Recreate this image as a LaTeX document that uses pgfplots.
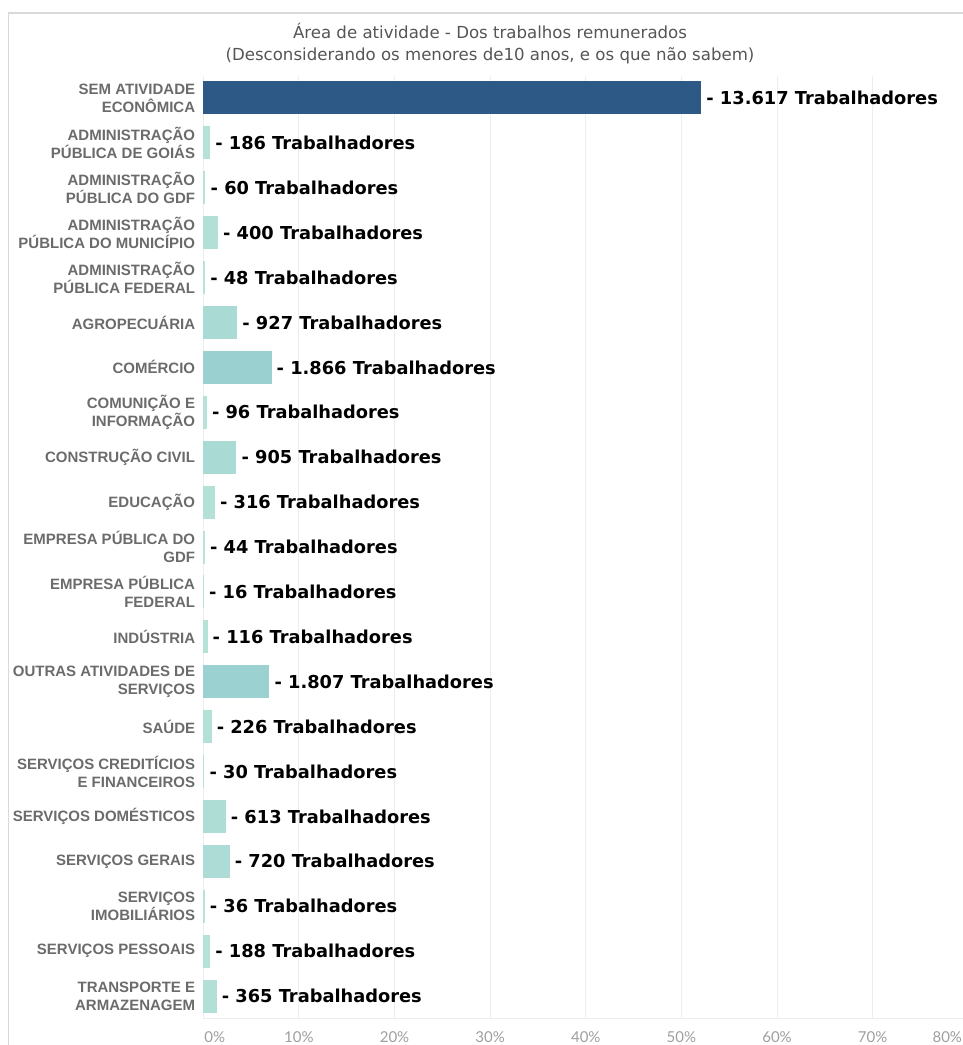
\documentclass[border=0pt]{standalone}
\usepackage{pgfplots}
\pgfplotsset{compat=1.18}
\usepackage{fontspec}
\setmainfont{Liberation Sans}
\newfontfamily\catfont{Liberation Sans}
\newfontfamily\valfont{DejaVu Sans}
\newfontfamily\titlefont{DejaVu Sans}
\newfontfamily\tickfont{Lato}
\definecolor{cdark}{HTML}{2C5985}
\definecolor{cmid}{HTML}{4A9FB8}
\definecolor{clight}{HTML}{B8E3D8}
\definecolor{catgray}{HTML}{6B6B6B}
\definecolor{titlegray}{HTML}{555555}
\definecolor{tickgray}{HTML}{9E9E9E}
\definecolor{gridgray}{HTML}{EDEDED}
\definecolor{framegray}{HTML}{D9D9D9}
\begin{document}
\begin{tikzpicture}[x=1pt,y=1pt]
\useasboundingbox (0,0) rectangle (963,1045);
\draw[framegray, line width=1.8pt] (8.5,0) -- (8.5,1032.3) -- (963,1032.3);
\node[font=\titlefont\fontsize{16.6}{20}\selectfont, text=titlegray, anchor=base, inner sep=0pt] at (490,1006) {Área de atividade - Dos trabalhos remunerados};
\node[font=\titlefont\fontsize{16.6}{20}\selectfont, text=titlegray, anchor=base, inner sep=0pt] at (490,984) {(Desconsiderando os menores de10 anos, e os que não sabem)};
\begin{axis}[
  at={(203.3pt,26.5pt)}, anchor=south west,
  width=765pt, height=943pt, scale only axis,
  xmin=0, xmax=80, ymin=-0.5, ymax=20.5, y dir=reverse,
  xbar, bar width=33pt, bar shift=0pt,
  axis line style={draw=none},
  xmajorgrids, grid style={gridgray, line width=0.9pt},
  major tick length=0pt,
  xtick={0,10,...,80},
  xticklabels={\hspace*{23pt}0\%,10\%,20\%,30\%,40\%,50\%,60\%,70\%,80\%\hspace*{42pt}},
  xticklabel style={font=\tickfont\fontsize{15}{18}\selectfont, text=tickgray, inner sep=0pt, yshift=-12.5pt},
  ytick={0,...,20},
  yticklabels={{SEM ATIVIDADE\\ECONÔMICA},{ADMINISTRAÇÃO\\PÚBLICA DE GOIÁS},{ADMINISTRAÇÃO\\PÚBLICA DO GDF},{ADMINISTRAÇÃO\\PÚBLICA DO MUNICÍPIO},{ADMINISTRAÇÃO\\PÚBLICA FEDERAL},{AGROPECUÁRIA},{COMÉRCIO},{COMUNIÇÃO E\\INFORMAÇÃO},{CONSTRUÇÃO CIVIL},{EDUCAÇÃO},{EMPRESA PÚBLICA DO\\GDF},{EMPRESA PÚBLICA\\FEDERAL},{INDÚSTRIA},{OUTRAS ATIVIDADES DE\\SERVIÇOS},{SAÚDE},{SERVIÇOS CREDITÍCIOS\\E FINANCEIROS},{SERVIÇOS DOMÉSTICOS},{SERVIÇOS GERAIS},{SERVIÇOS\\IMOBILIÁRIOS},{SERVIÇOS PESSOAIS},{TRANSPORTE E\\ARMAZENAGEM}},
  yticklabel style={align=right, anchor=east, inner sep=0pt, xshift=-8pt, font=\catfont\bfseries\fontsize{15}{18}\selectfont, text=catgray},
  point meta=explicit symbolic,
  nodes near coords={- \pgfplotspointmeta\ Trabalhadores},
  every node near coord/.append style={anchor=west, inner sep=0pt, xshift=5pt, font=\valfont\bfseries\fontsize{17.8}{20}\selectfont, text=black},
  clip=false,
]
\addplot[draw=none, fill=cdark] coordinates {(52.07,0) [13.617]};
\addplot[draw=none, fill=cmid!2.8!clight] coordinates {(0.711,1) [186]};
\addplot[draw=none, fill=cmid!0.9!clight] coordinates {(0.229,2) [60]};
\addplot[draw=none, fill=cmid!5.9!clight] coordinates {(1.530,3) [400]};
\addplot[draw=none, fill=cmid!0.7!clight] coordinates {(0.184,4) [48]};
\addplot[draw=none, fill=cmid!13.6!clight] coordinates {(3.545,5) [927]};
\addplot[draw=none, fill=cmid!27.4!clight] coordinates {(7.136,6) [1.866]};
\addplot[draw=none, fill=cmid!1.4!clight] coordinates {(0.367,7) [96]};
\addplot[draw=none, fill=cmid!13.3!clight] coordinates {(3.461,8) [905]};
\addplot[draw=none, fill=cmid!4.6!clight] coordinates {(1.208,9) [316]};
\addplot[draw=none, fill=cmid!0.6!clight] coordinates {(0.168,10) [44]};
\addplot[draw=none, fill=cmid!0.2!clight] coordinates {(0.061,11) [16]};
\addplot[draw=none, fill=cmid!1.7!clight] coordinates {(0.444,12) [116]};
\addplot[draw=none, fill=cmid!26.5!clight] coordinates {(6.910,13) [1.807]};
\addplot[draw=none, fill=cmid!3.3!clight] coordinates {(0.864,14) [226]};
\addplot[draw=none, fill=cmid!0.4!clight] coordinates {(0.115,15) [30]};
\addplot[draw=none, fill=cmid!9.0!clight] coordinates {(2.344,16) [613]};
\addplot[draw=none, fill=cmid!10.6!clight] coordinates {(2.753,17) [720]};
\addplot[draw=none, fill=cmid!0.5!clight] coordinates {(0.138,18) [36]};
\addplot[draw=none, fill=cmid!2.8!clight] coordinates {(0.719,19) [188]};
\addplot[draw=none, fill=cmid!5.4!clight] coordinates {(1.396,20) [365]};
\draw[gridgray, line width=1.2pt] (axis cs:0,20.5) -- (axis cs:80,20.5);
\end{axis}
\end{tikzpicture}
\end{document}
